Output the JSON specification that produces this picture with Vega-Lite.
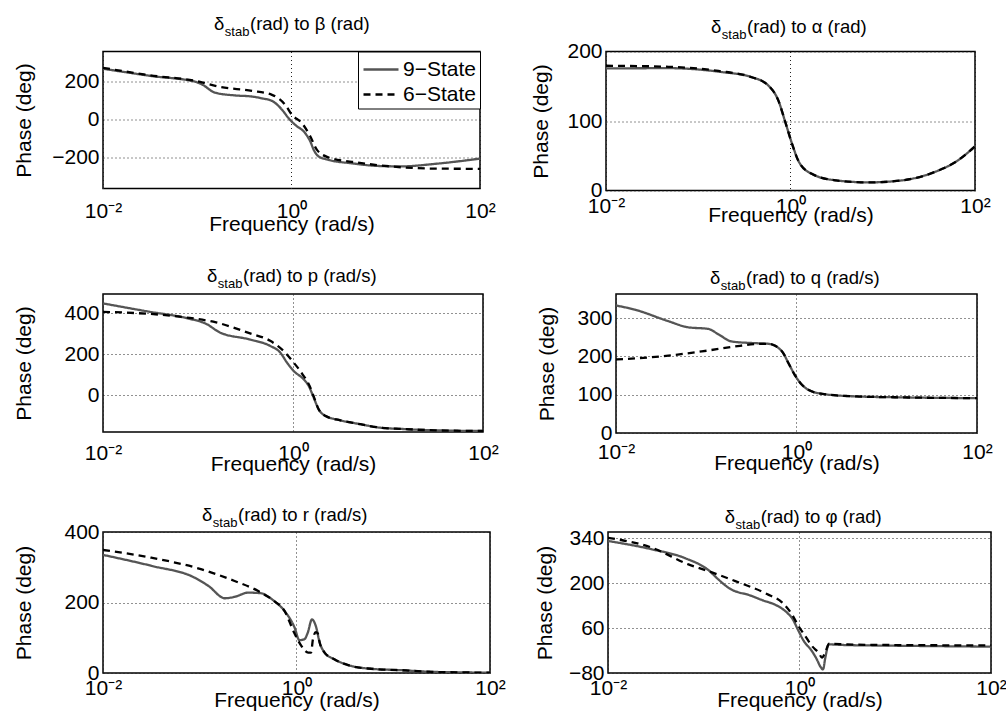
{
  "$schema": "https://vega.github.io/schema/vega-lite/v6.json",
  "background": "white",
  "padding": {"left": 12, "top": 13.5, "right": 5, "bottom": 5},
  "spacing": 30.5,
  "resolve": {"scale": {"color": "independent", "strokeDash": "independent"}},
  "datasets": {
    "beta": [
      {"f": 0.01, "phase": 270, "model": "9−State"}, {"f": 0.03311, "phase": 231, "model": "9−State"}, {"f": 0.0955, "phase": 201, "model": "9−State"}, {"f": 0.1122, "phase": 187, "model": "9−State"}, {"f": 0.1549, "phase": 143, "model": "9−State"}, {"f": 0.2512, "phase": 129, "model": "9−State"}, {"f": 0.3811, "phase": 123, "model": "9−State"}, {"f": 0.4898, "phase": 113, "model": "9−State"}, {"f": 0.6209, "phase": 100, "model": "9−State"}, {"f": 0.7943, "phase": 53, "model": "9−State"}, {"f": 0.9333, "phase": 8, "model": "9−State"}, {"f": 1.096, "phase": -27, "model": "9−State"}, {"f": 1.4, "phase": -71, "model": "9−State"}, {"f": 1.585, "phase": -115, "model": "9−State"}, {"f": 1.722, "phase": -159, "model": "9−State"}, {"f": 1.945, "phase": -194, "model": "9−State"}, {"f": 2.483, "phase": -212, "model": "9−State"}, {"f": 4.385, "phase": -230, "model": "9−State"}, {"f": 8.414, "phase": -244, "model": "9−State"}, {"f": 14.79, "phase": -246, "model": "9−State"}, {"f": 33.11, "phase": -233, "model": "9−State"}, {"f": 100, "phase": -205, "model": "9−State"},
      {"f": 0.01, "phase": 275, "model": "6−State"}, {"f": 0.03162, "phase": 235, "model": "6−State"}, {"f": 0.1, "phase": 204, "model": "6−State"}, {"f": 0.1698, "phase": 175, "model": "6−State"}, {"f": 0.3811, "phase": 153, "model": "6−State"}, {"f": 0.6209, "phase": 132, "model": "6−State"}, {"f": 0.859, "phase": 79, "model": "6−State"}, {"f": 1.012, "phase": 26, "model": "6−State"}, {"f": 1.291, "phase": -18, "model": "6−State"}, {"f": 1.585, "phase": -88, "model": "6−State"}, {"f": 1.862, "phase": -159, "model": "6−State"}, {"f": 2.483, "phase": -199, "model": "6−State"}, {"f": 4.385, "phase": -222, "model": "6−State"}, {"f": 8.414, "phase": -240, "model": "6−State"}, {"f": 15.85, "phase": -252, "model": "6−State"}, {"f": 33.11, "phase": -258, "model": "6−State"}, {"f": 100, "phase": -259, "model": "6−State"}
    ],
    "alpha": [
      {"f": 0.01, "phase": 175.6, "model": "9−State"}, {"f": 0.04786, "phase": 176, "model": "9−State"}, {"f": 0.166, "phase": 171, "model": "9−State"}, {"f": 0.3802, "phase": 163, "model": "9−State"}, {"f": 0.5754, "phase": 151, "model": "9−State"}, {"f": 0.7413, "phase": 129, "model": "9−State"}, {"f": 0.871, "phase": 100, "model": "9−State"}, {"f": 1.047, "phase": 66, "model": "9−State"}, {"f": 1.23, "phase": 41.5, "model": "9−State"}, {"f": 1.698, "phase": 24, "model": "9−State"}, {"f": 3.09, "phase": 14.6, "model": "9−State"}, {"f": 7.079, "phase": 11.7, "model": "9−State"}, {"f": 16.22, "phase": 14.6, "model": "9−State"}, {"f": 37.15, "phase": 27, "model": "9−State"}, {"f": 63.1, "phase": 42, "model": "9−State"}, {"f": 100, "phase": 63.5, "model": "9−State"},
      {"f": 0.01, "phase": 179.5, "model": "6−State"}, {"f": 0.04786, "phase": 178, "model": "6−State"}, {"f": 0.166, "phase": 172, "model": "6−State"}, {"f": 0.3802, "phase": 163, "model": "6−State"}, {"f": 0.5754, "phase": 151, "model": "6−State"}, {"f": 0.7413, "phase": 129, "model": "6−State"}, {"f": 0.871, "phase": 100, "model": "6−State"}, {"f": 1.047, "phase": 66, "model": "6−State"}, {"f": 1.23, "phase": 41.5, "model": "6−State"}, {"f": 1.698, "phase": 24, "model": "6−State"}, {"f": 3.09, "phase": 14.6, "model": "6−State"}, {"f": 7.079, "phase": 11.7, "model": "6−State"}, {"f": 16.22, "phase": 14.6, "model": "6−State"}, {"f": 37.15, "phase": 27, "model": "6−State"}, {"f": 63.1, "phase": 42, "model": "6−State"}, {"f": 100, "phase": 63.5, "model": "6−State"}
    ],
    "p": [
      {"f": 0.01, "phase": 449, "model": "9−State"}, {"f": 0.0309, "phase": 408, "model": "9−State"}, {"f": 0.07586, "phase": 377, "model": "9−State"}, {"f": 0.123, "phase": 348, "model": "9−State"}, {"f": 0.1698, "phase": 307, "model": "9−State"}, {"f": 0.3548, "phase": 272, "model": "9−State"}, {"f": 0.5754, "phase": 241, "model": "9−State"}, {"f": 0.7328, "phase": 209, "model": "9−State"}, {"f": 0.863, "phase": 160, "model": "9−State"}, {"f": 1.014, "phase": 119, "model": "9−State"}, {"f": 1.294, "phase": 78, "model": "9−State"}, {"f": 1.462, "phase": 46, "model": "9−State"}, {"f": 1.652, "phase": -12, "model": "9−State"}, {"f": 1.862, "phase": -69, "model": "9−State"}, {"f": 2.188, "phase": -101, "model": "9−State"}, {"f": 3.162, "phase": -123, "model": "9−State"}, {"f": 5.129, "phase": -142, "model": "9−State"}, {"f": 8.318, "phase": -159, "model": "9−State"}, {"f": 13.8, "phase": -165, "model": "9−State"}, {"f": 31.62, "phase": -172, "model": "9−State"}, {"f": 100, "phase": -175, "model": "9−State"},
      {"f": 0.01, "phase": 408, "model": "6−State"}, {"f": 0.07586, "phase": 380, "model": "6−State"}, {"f": 0.1549, "phase": 356, "model": "6−State"}, {"f": 0.3532, "phase": 302, "model": "6−State"}, {"f": 0.5754, "phase": 266, "model": "6−State"}, {"f": 0.7943, "phase": 217, "model": "6−State"}, {"f": 1.014, "phase": 160, "model": "6−State"}, {"f": 1.245, "phase": 106, "model": "6−State"}, {"f": 1.524, "phase": 37, "model": "6−State"}, {"f": 1.718, "phase": -28, "model": "6−State"}, {"f": 1.862, "phase": -69, "model": "6−State"}, {"f": 2.188, "phase": -101, "model": "6−State"}, {"f": 3.162, "phase": -123, "model": "6−State"}, {"f": 5.129, "phase": -142, "model": "6−State"}, {"f": 8.318, "phase": -159, "model": "6−State"}, {"f": 13.8, "phase": -165, "model": "6−State"}, {"f": 31.62, "phase": -172, "model": "6−State"}, {"f": 100, "phase": -175, "model": "6−State"}
    ],
    "q": [
      {"f": 0.01, "phase": 333, "model": "9−State"}, {"f": 0.01622, "phase": 322, "model": "9−State"}, {"f": 0.03802, "phase": 292, "model": "9−State"}, {"f": 0.0631, "phase": 276, "model": "9−State"}, {"f": 0.1047, "phase": 272, "model": "9−State"}, {"f": 0.138, "phase": 257, "model": "9−State"}, {"f": 0.1905, "phase": 239, "model": "9−State"}, {"f": 0.3162, "phase": 235, "model": "9−State"}, {"f": 0.4898, "phase": 233, "model": "9−State"}, {"f": 0.6918, "phase": 213, "model": "9−State"}, {"f": 0.8128, "phase": 183, "model": "9−State"}, {"f": 0.955, "phase": 152, "model": "9−State"}, {"f": 1.148, "phase": 126, "model": "9−State"}, {"f": 1.738, "phase": 104, "model": "9−State"}, {"f": 4.074, "phase": 96, "model": "9−State"}, {"f": 14.79, "phase": 93, "model": "9−State"}, {"f": 100, "phase": 91, "model": "9−State"},
      {"f": 0.01, "phase": 192, "model": "6−State"}, {"f": 0.03802, "phase": 202, "model": "6−State"}, {"f": 0.08913, "phase": 213, "model": "6−State"}, {"f": 0.2089, "phase": 226, "model": "6−State"}, {"f": 0.3467, "phase": 232, "model": "6−State"}, {"f": 0.4898, "phase": 233, "model": "6−State"}, {"f": 0.6918, "phase": 213, "model": "6−State"}, {"f": 0.8128, "phase": 183, "model": "6−State"}, {"f": 0.955, "phase": 152, "model": "6−State"}, {"f": 1.148, "phase": 126, "model": "6−State"}, {"f": 1.738, "phase": 104, "model": "6−State"}, {"f": 4.074, "phase": 96, "model": "6−State"}, {"f": 14.79, "phase": 93, "model": "6−State"}, {"f": 100, "phase": 91, "model": "6−State"}
    ],
    "r": [
      {"f": 0.01, "phase": 335, "model": "9−State"}, {"f": 0.03162, "phase": 304, "model": "9−State"}, {"f": 0.08913, "phase": 270, "model": "9−State"}, {"f": 0.123, "phase": 247, "model": "9−State"}, {"f": 0.182, "phase": 212, "model": "9−State"}, {"f": 0.2291, "phase": 216, "model": "9−State"}, {"f": 0.3162, "phase": 228, "model": "9−State"}, {"f": 0.4365, "phase": 226, "model": "9−State"}, {"f": 0.5012, "phase": 218, "model": "9−State"}, {"f": 0.5888, "phase": 204, "model": "9−State"}, {"f": 0.7516, "phase": 176, "model": "9−State"}, {"f": 0.955, "phase": 129, "model": "9−State"}, {"f": 1.072, "phase": 93, "model": "9−State"}, {"f": 1.211, "phase": 96, "model": "9−State"}, {"f": 1.306, "phase": 114, "model": "9−State"}, {"f": 1.445, "phase": 152, "model": "9−State"}, {"f": 1.585, "phase": 133, "model": "9−State"}, {"f": 1.738, "phase": 86, "model": "9−State"}, {"f": 1.95, "phase": 58, "model": "9−State"}, {"f": 2.455, "phase": 39, "model": "9−State"}, {"f": 3.673, "phase": 20, "model": "9−State"}, {"f": 5.888, "phase": 12, "model": "9−State"}, {"f": 12.02, "phase": 8, "model": "9−State"}, {"f": 26.92, "phase": 3, "model": "9−State"}, {"f": 100, "phase": 1, "model": "9−State"},
      {"f": 0.01, "phase": 349, "model": "6−State"}, {"f": 0.03162, "phase": 327, "model": "6−State"}, {"f": 0.1047, "phase": 294, "model": "6−State"}, {"f": 0.2291, "phase": 261, "model": "6−State"}, {"f": 0.3981, "phase": 233, "model": "6−State"}, {"f": 0.4467, "phase": 225, "model": "6−State"}, {"f": 0.5888, "phase": 204, "model": "6−State"}, {"f": 0.7516, "phase": 176, "model": "6−State"}, {"f": 0.955, "phase": 112, "model": "6−State"}, {"f": 1.122, "phase": 77, "model": "6−State"}, {"f": 1.318, "phase": 58, "model": "6−State"}, {"f": 1.413, "phase": 58, "model": "6−State"}, {"f": 1.479, "phase": 96, "model": "6−State"}, {"f": 1.585, "phase": 116, "model": "6−State"}, {"f": 1.66, "phase": 112, "model": "6−State"}, {"f": 1.738, "phase": 86, "model": "6−State"}, {"f": 1.95, "phase": 58, "model": "6−State"}, {"f": 2.455, "phase": 39, "model": "6−State"}, {"f": 3.673, "phase": 20, "model": "6−State"}, {"f": 5.888, "phase": 12, "model": "6−State"}, {"f": 12.02, "phase": 8, "model": "6−State"}, {"f": 26.92, "phase": 3, "model": "6−State"}, {"f": 100, "phase": 1, "model": "6−State"}
    ],
    "phi": [
      {"f": 0.01, "phase": 331, "model": "9−State"}, {"f": 0.02884, "phase": 305, "model": "9−State"}, {"f": 0.06457, "phase": 277, "model": "9−State"}, {"f": 0.1122, "phase": 240, "model": "9−State"}, {"f": 0.1413, "phase": 212, "model": "9−State"}, {"f": 0.182, "phase": 185, "model": "9−State"}, {"f": 0.3162, "phase": 160, "model": "9−State"}, {"f": 0.4074, "phase": 147, "model": "9−State"}, {"f": 0.5623, "phase": 132, "model": "9−State"}, {"f": 0.6607, "phase": 120, "model": "9−State"}, {"f": 0.7586, "phase": 105, "model": "9−State"}, {"f": 0.8318, "phase": 92, "model": "9−State"}, {"f": 0.9772, "phase": 51, "model": "9−State"}, {"f": 1.096, "phase": 22, "model": "9−State"}, {"f": 1.349, "phase": -12, "model": "9−State"}, {"f": 1.514, "phase": -37, "model": "9−State"}, {"f": 1.66, "phase": -61, "model": "9−State"}, {"f": 1.758, "phase": -69, "model": "9−State"}, {"f": 1.862, "phase": -32, "model": "9−State"}, {"f": 2.018, "phase": 9, "model": "9−State"}, {"f": 3.02, "phase": 7, "model": "9−State"}, {"f": 10, "phase": 5, "model": "9−State"}, {"f": 100, "phase": 2, "model": "9−State"},
      {"f": 0.01, "phase": 341, "model": "6−State"}, {"f": 0.02884, "phase": 310, "model": "6−State"}, {"f": 0.06918, "phase": 258, "model": "6−State"}, {"f": 0.1122, "phase": 237, "model": "6−State"}, {"f": 0.2138, "phase": 206, "model": "6−State"}, {"f": 0.4571, "phase": 166, "model": "6−State"}, {"f": 0.6607, "phase": 139, "model": "6−State"}, {"f": 0.8318, "phase": 103, "model": "6−State"}, {"f": 0.9772, "phase": 66, "model": "6−State"}, {"f": 1.148, "phase": 35, "model": "6−State"}, {"f": 1.349, "phase": 4, "model": "6−State"}, {"f": 1.585, "phase": -17, "model": "6−State"}, {"f": 1.718, "phase": -32, "model": "6−State"}, {"f": 1.862, "phase": -15, "model": "6−State"}, {"f": 2.042, "phase": 11, "model": "6−State"}, {"f": 3.162, "phase": 9, "model": "6−State"}, {"f": 10, "phase": 7, "model": "6−State"}, {"f": 100, "phase": 6, "model": "6−State"}
    ]
  },
  "vconcat": [
    {
      "hconcat": [
        {
          "width": 377, "height": 137,
          "data": {"name": "beta"},
          "title": {"text": "δ\u00a0\u00a0\u00a0\u00a0\u00a0(rad) to β (rad)", "subtitle": "\u200b\u00a0\u00a0\u00a0stab", "dx": 111, "offset": 12},
          "mark": {"type": "line", "interpolate": "monotone", "strokeWidth": 2.3, "clip": true},
          "encoding": {
            "x": {"field": "f", "type": "quantitative", "scale": {"type": "log", "domain": [0.01, 100], "nice": false}, "axis": {"title": "Frequency (rad/s)", "values": [0.01, 1, 100], "labelExpr": "datum.value < 0.1 ? '10⁻²' : datum.value < 10 ? '10⁰' : '10²'", "labelBaseline": "alphabetic", "labelPadding": 29, "titleY": 42, "titleBaseline": "alphabetic"}},
            "y": {"field": "phase", "type": "quantitative", "scale": {"domain": [-363, 361], "nice": false, "zero": false}, "axis": {"title": "Phase (deg)", "values": [-200, 0, 200], "titleX": -72.5, "titleBaseline": "alphabetic", "labelPadding": 4}},
            "color": {"field": "model", "type": "nominal", "scale": {"domain": ["9−State", "6−State"], "range": ["#555555", "#000000"]}, "legend": {"title": null, "orient": "top-right", "offset": 0, "strokeColor": "black", "fillColor": "white", "padding": 4, "labelFontSize": 21, "labelFont": "Liberation Sans", "labelColor": "black", "symbolType": "M-1,0H1.8", "symbolSize": 625, "symbolStrokeWidth": 2.3, "rowPadding": 1, "labelOffset": 13, "labelLimit": 0}},
            "strokeDash": {"field": "model", "type": "nominal", "scale": {"domain": ["9−State", "6−State"], "range": [[1, 0], [7, 5]]}, "legend": {"title": null, "orient": "top-right", "offset": 0, "strokeColor": "black", "fillColor": "white", "padding": 4, "labelFontSize": 21, "labelFont": "Liberation Sans", "labelColor": "black", "symbolType": "M-1,0H1.8", "symbolSize": 625, "symbolStrokeWidth": 2.3, "rowPadding": 1, "labelOffset": 13, "labelLimit": 0}}
          }
        },
        {
          "width": 369, "height": 139,
          "data": {"name": "alpha"},
          "title": {"text": "δ\u00a0\u00a0\u00a0\u00a0\u00a0(rad) to α (rad)", "subtitle": "\u200b\u00a0\u00a0\u00a0stab", "dx": 105, "offset": -1.7},
          "mark": {"type": "line", "interpolate": "monotone", "strokeWidth": 2.3, "clip": true},
          "encoding": {
            "x": {"field": "f", "type": "quantitative", "scale": {"type": "log", "domain": [0.01, 100], "nice": false}, "axis": {"title": "Frequency (rad/s)", "values": [0.01, 1, 100], "labelExpr": "datum.value < 0.1 ? '10⁻²' : datum.value < 10 ? '10⁰' : '10²'", "labelBaseline": "alphabetic", "labelPadding": 21.6, "titleY": 31.4, "titleBaseline": "alphabetic"}},
            "y": {"field": "phase", "type": "quantitative", "scale": {"domain": [0, 200], "nice": false, "zero": false}, "axis": {"title": "Phase (deg)", "values": [0, 100, 200], "titleX": -58.3, "titleBaseline": "alphabetic", "labelPadding": 4}},
            "color": {"field": "model", "type": "nominal", "scale": {"domain": ["9−State", "6−State"], "range": ["#555555", "#000000"]}, "legend": null},
            "strokeDash": {"field": "model", "type": "nominal", "scale": {"domain": ["9−State", "6−State"], "range": [[1, 0], [7, 5]]}, "legend": null}
          }
        }
      ],
      "spacing": 126,
      "bounds": "flush",
      "resolve": {"scale": {"color": "independent", "strokeDash": "independent"}}
    },
    {
      "spacing": 30,
      "resolve": {"scale": {"color": "independent", "strokeDash": "independent"}},
      "vconcat": [
        {
          "hconcat": [
            {
              "width": 380, "height": 138,
              "data": {"name": "p"},
              "title": {"text": "δ\u00a0\u00a0\u00a0\u00a0\u00a0(rad) to p (rad/s)", "subtitle": "\u200b\u00a0\u00a0\u00a0stab", "dx": 104, "offset": 3},
              "mark": {"type": "line", "interpolate": "monotone", "strokeWidth": 2.3, "clip": true},
              "encoding": {
                "x": {"field": "f", "type": "quantitative", "scale": {"type": "log", "domain": [0.01, 100], "nice": false}, "axis": {"title": "Frequency (rad/s)", "values": [0.01, 1, 100], "labelExpr": "datum.value < 0.1 ? '10⁻²' : datum.value < 10 ? '10⁰' : '10²'", "labelBaseline": "alphabetic", "labelPadding": 27.3, "titleY": 38, "titleBaseline": "alphabetic"}},
                "y": {"field": "phase", "type": "quantitative", "scale": {"domain": [-180, 495], "nice": false, "zero": false}, "axis": {"title": "Phase (deg)", "values": [0, 200, 400], "titleX": -72.5, "titleBaseline": "alphabetic", "labelPadding": 4}},
                "color": {"field": "model", "type": "nominal", "scale": {"domain": ["9−State", "6−State"], "range": ["#555555", "#000000"]}, "legend": null},
                "strokeDash": {"field": "model", "type": "nominal", "scale": {"domain": ["9−State", "6−State"], "range": [[1, 0], [7, 5]]}, "legend": null}
              }
            },
            {
              "width": 361, "height": 139,
              "data": {"name": "q"},
              "title": {"text": "δ\u00a0\u00a0\u00a0\u00a0\u00a0(rad) to q (rad/s)", "subtitle": "\u200b\u00a0\u00a0\u00a0stab", "dx": 94, "offset": 1},
              "mark": {"type": "line", "interpolate": "monotone", "strokeWidth": 2.3, "clip": true},
              "encoding": {
                "x": {"field": "f", "type": "quantitative", "scale": {"type": "log", "domain": [0.01, 100], "nice": false}, "axis": {"title": "Frequency (rad/s)", "values": [0.01, 1, 100], "labelExpr": "datum.value < 0.1 ? '10⁻²' : datum.value < 10 ? '10⁰' : '10²'", "labelBaseline": "alphabetic", "labelPadding": 25, "titleY": 36.4, "titleBaseline": "alphabetic"}},
                "y": {"field": "phase", "type": "quantitative", "scale": {"domain": [0, 363], "nice": false, "zero": false}, "axis": {"title": "Phase (deg)", "values": [0, 100, 200, 300], "titleX": -63, "titleBaseline": "alphabetic", "labelPadding": 4}},
                "color": {"field": "model", "type": "nominal", "scale": {"domain": ["9−State", "6−State"], "range": ["#555555", "#000000"]}, "legend": null},
                "strokeDash": {"field": "model", "type": "nominal", "scale": {"domain": ["9−State", "6−State"], "range": [[1, 0], [7, 5]]}, "legend": null}
              }
            }
          ],
          "spacing": 133,
          "bounds": "flush",
          "resolve": {"scale": {"color": "independent", "strokeDash": "independent"}}
        },
        {
          "hconcat": [
            {
              "width": 387, "height": 141,
              "data": {"name": "r"},
              "title": {"text": "δ\u00a0\u00a0\u00a0\u00a0\u00a0(rad) to r (rad/s)", "subtitle": "\u200b\u00a0\u00a0\u00a0stab", "dx": 99, "offset": -9},
              "mark": {"type": "line", "interpolate": "monotone", "strokeWidth": 2.3, "clip": true},
              "encoding": {
                "x": {"field": "f", "type": "quantitative", "scale": {"type": "log", "domain": [0.01, 100], "nice": false}, "axis": {"title": "Frequency (rad/s)", "values": [0.01, 1, 100], "labelExpr": "datum.value < 0.1 ? '10⁻²' : datum.value < 10 ? '10⁰' : '10²'", "labelBaseline": "alphabetic", "labelPadding": 21.3, "titleY": 33.5, "titleBaseline": "alphabetic"}},
                "y": {"field": "phase", "type": "quantitative", "scale": {"domain": [0, 400], "nice": false, "zero": false}, "axis": {"title": "Phase (deg)", "values": [0, 200, 400], "titleX": -72.5, "titleBaseline": "alphabetic", "labelPadding": 4}},
                "color": {"field": "model", "type": "nominal", "scale": {"domain": ["9−State", "6−State"], "range": ["#555555", "#000000"]}, "legend": null},
                "strokeDash": {"field": "model", "type": "nominal", "scale": {"domain": ["9−State", "6−State"], "range": [[1, 0], [7, 5]]}, "legend": null}
              }
            },
            {
              "width": 383, "height": 141,
              "data": {"name": "phi"},
              "title": {"text": "δ\u00a0\u00a0\u00a0\u00a0\u00a0(rad) to φ (rad)", "subtitle": "\u200b\u00a0\u00a0\u00a0stab", "dx": 116.7, "offset": -5},
              "mark": {"type": "line", "interpolate": "monotone", "strokeWidth": 2.3, "clip": true},
              "encoding": {
                "x": {"field": "f", "type": "quantitative", "scale": {"type": "log", "domain": [0.01, 100], "nice": false}, "axis": {"title": "Frequency (rad/s)", "values": [0.01, 1, 100], "labelExpr": "datum.value < 0.1 ? '10⁻²' : datum.value < 10 ? '10⁰' : '10²'", "labelBaseline": "alphabetic", "labelPadding": 21.3, "titleY": 33.5, "titleBaseline": "alphabetic"}},
                "y": {"field": "phase", "type": "quantitative", "scale": {"domain": [-80, 359], "nice": false, "zero": false}, "axis": {"title": "Phase (deg)", "values": [-80, 60, 200, 340], "titleX": -57, "titleBaseline": "alphabetic", "labelPadding": 4}},
                "color": {"field": "model", "type": "nominal", "scale": {"domain": ["9−State", "6−State"], "range": ["#555555", "#000000"]}, "legend": null},
                "strokeDash": {"field": "model", "type": "nominal", "scale": {"domain": ["9−State", "6−State"], "range": [[1, 0], [7, 5]]}, "legend": null}
              }
            }
          ],
          "spacing": 118,
          "bounds": "flush",
          "resolve": {"scale": {"color": "independent", "strokeDash": "independent"}}
        }
      ]
    }
  ],
  "config": {
    "font": "Liberation Sans",
    "view": {"stroke": "black", "strokeWidth": 1.5},
    "axis": {"labelFont": "Liberation Sans", "titleFont": "Liberation Sans", "labelFontSize": 21, "titleFontSize": 21, "titleFontWeight": "normal", "labelColor": "black", "titleColor": "black", "domain": false, "ticks": false, "tickSize": 0, "grid": true, "gridColor": "#222222", "gridDash": [1, 3], "gridWidth": 1, "gridOpacity": 1, "labelFlush": false, "labelOverlap": false},
    "title": {"font": "Liberation Sans", "fontSize": 18.5, "fontWeight": "normal", "color": "black", "subtitleFont": "Liberation Sans", "subtitleFontSize": 13, "subtitleColor": "black", "subtitlePadding": -7.5, "anchor": "start", "frame": "group"}
  }
}
